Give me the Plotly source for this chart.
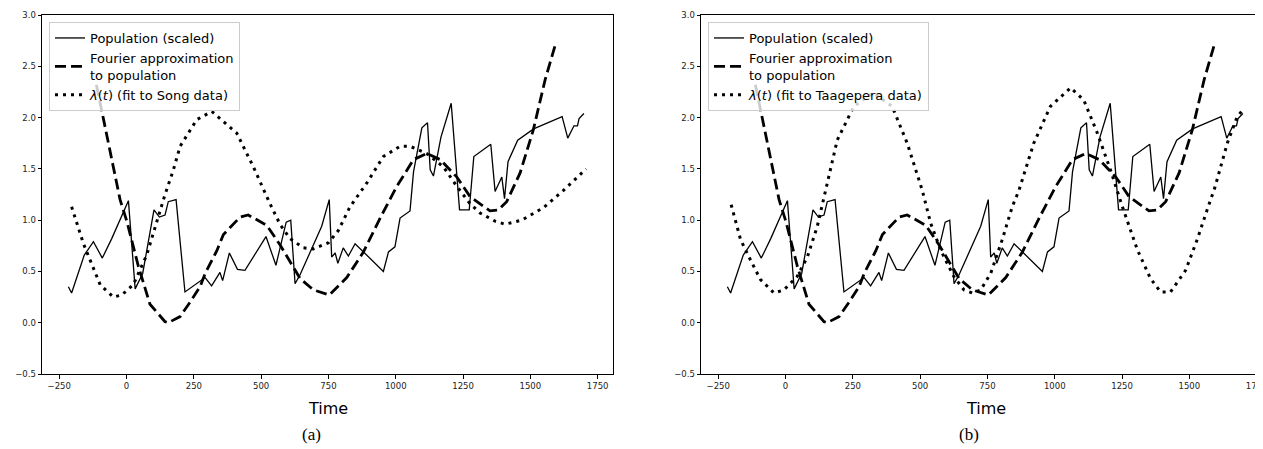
import plotly.graph_objects as go

# ---------------- data ----------------
pop_t = [-216, -204, -157, -123, -90, -55, 7, 32, 60, 102, 122, 143, 155, 184, 217,
         292, 316, 347, 357, 382, 412, 440, 518, 555, 593, 610, 626, 645, 725, 753,
         762, 775, 785, 805, 824, 849, 954, 973, 997, 1016, 1053, 1066, 1097, 1118,
         1128, 1140, 1168, 1206, 1217, 1237, 1273, 1290, 1353, 1369, 1394, 1404,
         1417, 1453, 1512, 1618, 1639, 1662, 1675, 1681, 1699]
pop_v = [0.35, 0.29, 0.66, 0.79, 0.63, 0.82, 1.19, 0.33, 0.48, 1.10, 1.03, 1.05, 1.18, 1.20, 0.30,
         0.44, 0.36, 0.49, 0.41, 0.68, 0.52, 0.51, 0.84, 0.56, 0.98, 1.00, 0.38, 0.47, 0.94, 1.20,
         0.64, 0.68, 0.58, 0.73, 0.65, 0.77, 0.50, 0.69, 0.74, 1.02, 1.09, 1.47, 1.90, 1.95,
         1.49, 1.43, 1.81, 2.14, 1.77, 1.10, 1.10, 1.62, 1.74, 1.28, 1.42, 1.21,
         1.57, 1.78, 1.89, 2.01, 1.80, 1.92, 1.92, 1.99, 2.04]

four_t = [-112, -98, -47, -24, 1, 44, 87, 143, 155, 199, 236, 273, 292, 335, 360,
          397, 422, 452, 521, 570, 607, 645, 694, 753, 818, 880, 942, 1004, 1066, 1115,
          1165, 1227, 1276, 1350, 1381, 1412, 1462, 1511, 1555, 1596]
four_v = [2.32, 2.14, 1.49, 1.20, 0.99, 0.55, 0.18, 0.01, 0.0, 0.06, 0.20, 0.35, 0.48, 0.70, 0.86,
          0.96, 1.03, 1.05, 0.95, 0.76, 0.60, 0.43, 0.32, 0.27, 0.44, 0.69, 1.02, 1.33, 1.59, 1.65,
          1.59, 1.42, 1.23, 1.09, 1.10, 1.18, 1.46, 1.88, 2.37, 2.74]

song_t = [-204, -160, -98, -49, -18, 25, 75, 112, 143, 174, 199, 261, 317, 409, 471, 533,
          570, 607, 657, 694, 750, 787, 830, 892, 954, 1016, 1053, 1115, 1177, 1227, 1276,
          1313, 1369, 1406, 1468, 1548, 1623, 1707]
song_v = [1.13, 0.77, 0.37, 0.25, 0.27, 0.37, 0.66, 0.99, 1.25, 1.49, 1.72, 1.98, 2.06, 1.85, 1.52, 1.16,
          0.96, 0.82, 0.73, 0.72, 0.78, 0.90, 1.13, 1.36, 1.62, 1.72, 1.72, 1.65, 1.52, 1.33, 1.16,
          1.07, 0.99, 0.96, 1.00, 1.12, 1.29, 1.50]

taag_t = [-202, -167, -130, -93, -43, -6, 43, 81, 118, 145, 192, 254, 326, 396, 452, 508,
          539, 576, 625, 663, 694, 725, 762, 805, 842, 867, 922, 984, 1059, 1108, 1158,
          1207, 1250, 1307, 1356, 1393, 1430, 1486, 1529, 1566, 1595, 1641, 1678, 1703]
taag_v = [1.15, 0.81, 0.61, 0.42, 0.29, 0.32, 0.45, 0.64, 0.94, 1.24, 1.78, 2.11, 2.24, 2.11, 1.75, 1.29,
          0.97, 0.71, 0.45, 0.32, 0.29, 0.32, 0.48, 0.81, 1.13, 1.29, 1.75, 2.11, 2.29, 2.17, 1.85,
          1.49, 1.14, 0.71, 0.43, 0.30, 0.30, 0.51, 0.81, 1.10, 1.32, 1.75, 2.01, 2.09]

x_ticks = [-250, 0, 250, 500, 750, 1000, 1250, 1500, 1750]
x_ticktext = ["\u2212250", "0", "250", "500", "750", "1000", "1250", "1500", "1750"]
y_ticks = [-0.5, 0.0, 0.5, 1.0, 1.5, 2.0, 2.5, 3.0]
y_ticktext = ["\u22120.5", "0.0", "0.5", "1.0", "1.5", "2.0", "2.5", "3.0"]

names = ["Population (scaled)", "Fourier approximation<br>to population"]
lam_names = ["<i>λ</i>(<i>t</i>) (fit to Song data)",
             "<i>λ</i>(<i>t</i>) (fit to Taagepera data)"]
captions = ["(a)", "(b)"]

# ---------------- geometry (page has an 8px body margin) ----------------
OFF = 8
W, H = 1263 - OFF, 449 - OFF
FONT = "DejaVu Sans"


def px(v):
    return v - OFF


fig = go.Figure()

for i, (lam_t, lam_v) in enumerate([(song_t, song_v), (taag_t, taag_v)]):
    xa = "x" if i == 0 else "x2"
    ya = "y" if i == 0 else "y2"
    lg = "legend" if i == 0 else "legend2"
    fig.add_trace(go.Scatter(x=pop_t, y=pop_v, mode="lines", name=names[0],
                             line=dict(color="black", width=1.3),
                             xaxis=xa, yaxis=ya, legend=lg))
    fig.add_trace(go.Scatter(x=four_t, y=four_v, mode="lines", name=names[1],
                             line=dict(color="black", width=2.8, dash="11px,5px"),
                             xaxis=xa, yaxis=ya, legend=lg))
    fig.add_trace(go.Scatter(x=lam_t, y=lam_v, mode="lines", name=lam_names[i],
                             line=dict(color="black", width=3, dash="3px,5px"),
                             xaxis=xa, yaxis=ya, legend=lg))

axis_common = dict(showgrid=False, zeroline=False, showline=True, linecolor="black",
                   linewidth=1, ticks="outside", ticklen=3.5, tickwidth=0.8,
                   tickcolor="black", tickfont=dict(family=FONT, size=8.5, color="#222"),
                   automargin=False, ticklabeloverflow="allow")

y_dom = [1 - px(374) / H, 1 - px(15) / H]
x_range_left = [-314, 1807]
px_per_unit = (613 - 42) / (x_range_left[1] - x_range_left[0])
x_range_right = [-314, -314 + (1263 - 701) / px_per_unit]

legend_common = dict(xanchor="left", yanchor="top", y=1 - px(22) / H,
                     bgcolor="rgba(255,255,255,0.8)", bordercolor="#cccccc", borderwidth=1,
                     font=dict(family=FONT, size=13, color="black"), tracegroupgap=0,
                     itemwidth=30)

fig.update_layout(
    width=W, height=H,
    margin=dict(l=0, r=0, t=0, b=0),
    paper_bgcolor="white", plot_bgcolor="white",
    xaxis=dict(domain=[px(42) / W, px(613) / W], range=x_range_left, tickvals=x_ticks,
               ticktext=x_ticktext, mirror=True, anchor="y", **axis_common),
    yaxis=dict(domain=y_dom, range=[-0.5, 3.0], tickvals=y_ticks, ticktext=y_ticktext,
               mirror=True, anchor="x", **axis_common),
    xaxis2=dict(domain=[px(701) / W, 1.0], range=x_range_right, tickvals=x_ticks,
                ticktext=x_ticktext, mirror=True, anchor="y2", **axis_common),
    yaxis2=dict(domain=y_dom, range=[-0.5, 3.0], tickvals=y_ticks, ticktext=y_ticktext,
                mirror=False, anchor="x2", **axis_common),
    legend=dict(x=px(49) / W, **legend_common),
    legend2=dict(x=px(708) / W, **legend_common),
    showlegend=True,
)

annotations = []
for cx_time, cx_cap, cap in [(328, 311, captions[0]), (986, 969, captions[1])]:
    annotations.append(dict(text="Time", x=px(cx_time) / W, y=1 - px(408) / H,
                            xref="paper", yref="paper", xanchor="center", yanchor="middle",
                            showarrow=False, font=dict(family=FONT, size=16, color="black")))
    annotations.append(dict(text=cap, x=px(cx_cap) / W, y=1 - px(434) / H,
                            xref="paper", yref="paper", xanchor="center", yanchor="middle",
                            showarrow=False,
                            font=dict(family="Liberation Serif", size=17, color="black")))
fig.update_layout(annotations=annotations)

fig.write_html("out.html")
